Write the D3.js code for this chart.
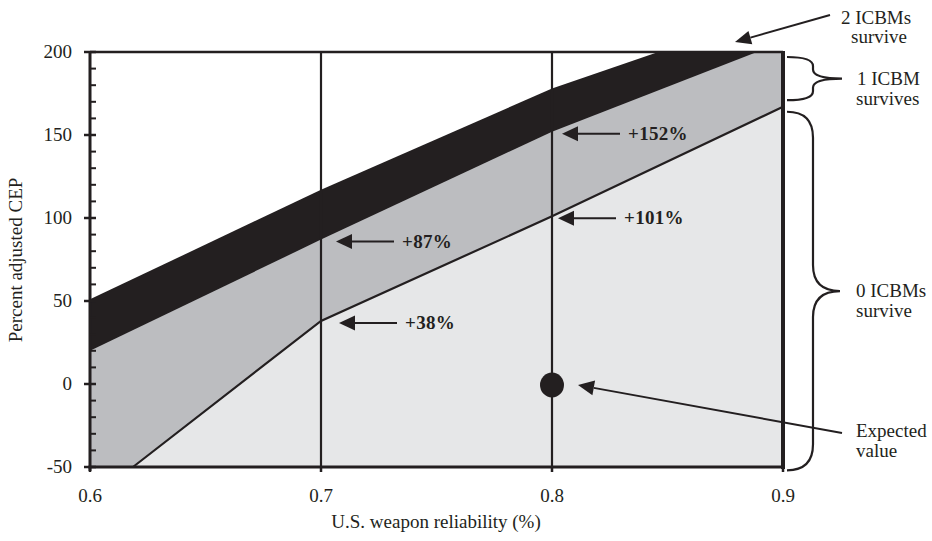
<!DOCTYPE html>
<html>
<head>
<meta charset="utf-8">
<script src="https://cdn.jsdelivr.net/npm/d3@7"></script>
<style>
  body { margin: 0; background: #fff; }
  svg text { font-family: "Liberation Serif", "DejaVu Serif", serif; fill: #231f20; }
</style>
</head>
<body>
<div id="chart"></div>
<script>
// donnees
const xTicks = [0.6, 0.7, 0.8, 0.9];
const yTicks = [-50, 0, 50, 100, 150, 200];
const yMinor = d3.range(-50, 201, 10);

// frontiere 0 ICBM / 1 ICBM
const zeroX = [0.6186, 0.7, 0.8, 0.9];
const zeroY = [-50, 38, 101, 167];
// frontiere 1 ICBM / 2 ICBMs
const oneX = [0.6, 0.7, 0.8, 0.8887, 0.9];
const oneY = [20, 87, 152, 200, 200];
// haut de la bande noire
const twoX = [0.6, 0.7, 0.8, 0.846, 0.9];
const twoY = [51, 117, 178, 200, 200];

// etiquettes en %
const pctX = [0.8, 0.8, 0.7, 0.7];
const pctY = [152, 101, 87, 38];
const pctText = ["+152%", "+101%", "+87%", "+38%"];

const expectedX = 0.8;
const expectedY = 0;

// accolades (valeurs de CEP)
const braceOne = [197, 171];
const braceZero = [164, -52];

const W = 932, H = 541;
const black = "#231f20", midGray = "#bcbdc0", lightGray = "#e6e7e8";

const svg = d3.select("#chart").append("svg").attr("width", W).attr("height", H);

const x = d3.scaleLinear().domain([0.6, 0.9]).range([90, 783]);
const y = d3.scaleLinear().domain([-50, 200]).range([467, 52]);

const zip = (xs, ys) => xs.map((v, i) => [v, ys[i]]);

const area = d3.area()
  .x(d => x(d[0]))
  .y0(y(-50))
  .y1(d => y(d[1]));

// zones
svg.append("path").datum(zip(twoX, twoY)).attr("d", area).attr("fill", black);
svg.append("path").datum(zip(oneX, oneY)).attr("d", area).attr("fill", midGray);
svg.append("path").datum(zip(zeroX, zeroY)).attr("d", area).attr("fill", lightGray);

// lignes verticales 0.7 et 0.8
svg.selectAll(".vline")
  .data([0.7, 0.8])
  .enter()
  .append("line")
  .attr("x1", d => x(d)).attr("x2", d => x(d))
  .attr("y1", y(200)).attr("y2", y(-50))
  .attr("stroke", black).attr("stroke-width", 2.2);

// frontiere basse
svg.append("path")
  .datum(zip(zeroX, zeroY))
  .attr("d", d3.line().x(d => x(d[0])).y(d => y(d[1])))
  .attr("fill", "none").attr("stroke", black).attr("stroke-width", 2.2);

// bord haut et ligne 0.9
svg.append("line")
  .attr("x1", x(0.6)).attr("x2", x(0.9)).attr("y1", y(200)).attr("y2", y(200))
  .attr("stroke", black).attr("stroke-width", 2.5);
svg.append("line")
  .attr("x1", x(0.9)).attr("x2", x(0.9)).attr("y1", y(200) - 1).attr("y2", y(-50) + 2)
  .attr("stroke", black).attr("stroke-width", 4);

// axes
const yAxis = svg.append("g");
yAxis.append("line")
  .attr("x1", x(0.6)).attr("x2", x(0.6)).attr("y1", y(200) - 1).attr("y2", y(-50) + 4)
  .attr("stroke", black).attr("stroke-width", 3);
yAxis.selectAll(".minor")
  .data(yMinor)
  .enter()
  .append("line")
  .attr("x1", x(0.6)).attr("x2", x(0.6) + 6)
  .attr("y1", d => y(d)).attr("y2", d => y(d))
  .attr("stroke", black).attr("stroke-width", 2);
yAxis.selectAll(".major")
  .data(yTicks)
  .enter()
  .append("line")
  .attr("x1", x(0.6) - 6).attr("x2", x(0.6) + 6)
  .attr("y1", d => y(d)).attr("y2", d => y(d))
  .attr("stroke", black).attr("stroke-width", 2.5);
yAxis.selectAll("text")
  .data(yTicks)
  .enter()
  .append("text")
  .attr("x", 72).attr("y", d => y(d) + 6)
  .attr("text-anchor", "end")
  .style("font-size", "19px")
  .text(d => d);

const xAxis = svg.append("g");
xAxis.append("line")
  .attr("x1", x(0.6) - 1.5).attr("x2", x(0.9) + 2).attr("y1", y(-50)).attr("y2", y(-50))
  .attr("stroke", black).attr("stroke-width", 3);
xAxis.selectAll(".tick")
  .data(xTicks)
  .enter()
  .append("line")
  .attr("x1", d => x(d)).attr("x2", d => x(d))
  .attr("y1", y(-50)).attr("y2", y(-50) + 5)
  .attr("stroke", black).attr("stroke-width", 2.5);
xAxis.selectAll("text")
  .data(xTicks)
  .enter()
  .append("text")
  .attr("x", d => x(d)).attr("y", 502)
  .attr("text-anchor", "middle")
  .style("font-size", "19px")
  .text(d => d.toFixed(1));

// titres des axes
svg.append("text")
  .attr("transform", "translate(22," + 260 + ") rotate(-90)")
  .attr("text-anchor", "middle")
  .style("font-size", "19px")
  .text("Percent adjusted CEP");
svg.append("text")
  .attr("x", 436).attr("y", 528)
  .attr("text-anchor", "middle")
  .style("font-size", "19px")
  .text("U.S. weapon reliability (%)");

// fleche avec tete pleine
function arrow(x1, y1, x2, y2, len, half) {
  const a = Math.atan2(y2 - y1, x2 - x1);
  const bx = x2 - len * Math.cos(a), by = y2 - len * Math.sin(a);
  svg.append("line")
    .attr("x1", x1).attr("y1", y1).attr("x2", bx).attr("y2", by)
    .attr("stroke", black).attr("stroke-width", 2);
  const px = -Math.sin(a) * half, py = Math.cos(a) * half;
  svg.append("path")
    .attr("d", "M" + x2 + "," + y2 + "L" + (bx + px) + "," + (by + py) + "L" + (bx - px) + "," + (by - py) + "Z")
    .attr("fill", black);
}

// etiquettes +%
const tipOffset = [10, 6, 15, 18];
pctText.forEach(function (t, i) {
  const tx = x(pctX[i]) + tipOffset[i];
  const ty = y(pctY[i]) + 2;
  arrow(tx + 58, ty, tx, ty, 16, 7.5);
  svg.append("text")
    .attr("x", tx + 66).attr("y", ty + 6)
    .style("font-size", "19px")
    .style("font-weight", "bold")
    .style("letter-spacing", "0.3px")
    .text(t);
});

// valeur attendue
svg.append("ellipse")
  .attr("cx", x(expectedX)).attr("cy", y(expectedY) + 1)
  .attr("rx", 12).attr("ry", 12.5)
  .attr("fill", black);
arrow(842, 433, x(expectedX) + 26, y(expectedY) + 1, 16, 7.5);
svg.append("text").attr("x", 856).attr("y", 437).style("font-size", "19px").text("Expected");
svg.append("text").attr("x", 856).attr("y", 457).style("font-size", "19px").text("value");

// 2 ICBMs
arrow(830, 15, 735, 42, 16, 7);
svg.append("text").attr("x", 876).attr("y", 24).attr("text-anchor", "middle").style("font-size", "19px").text("2 ICBMs");
svg.append("text").attr("x", 879).attr("y", 43).attr("text-anchor", "middle").style("font-size", "19px").text("survive");

// accolades
function brace(v0, v1, r, tip) {
  const x0 = x(0.9) + 4, xm = x(0.9) + 30;
  const y0 = y(v0), y1 = y(v1), ym = (y0 + y1) / 2;
  const d = "M" + x0 + "," + y0 +
    "Q" + xm + "," + y0 + " " + xm + "," + (y0 + r) +
    "L" + xm + "," + (ym - r) +
    "Q" + xm + "," + ym + " " + (xm + tip) + "," + ym +
    "Q" + xm + "," + ym + " " + xm + "," + (ym + r) +
    "L" + xm + "," + (y1 - r) +
    "Q" + xm + "," + y1 + " " + x0 + "," + y1;
  svg.append("path").attr("d", d).attr("fill", "none").attr("stroke", black).attr("stroke-width", 2.2);
  return ym;
}
const m1 = brace(braceOne[0], braceOne[1], 9, 29);
svg.append("text").attr("x", 857).attr("y", m1 + 6).style("font-size", "19px").text("1 ICBM");
svg.append("text").attr("x", 856).attr("y", m1 + 26).style("font-size", "19px").text("survives");

const m0 = brace(braceZero[0], braceZero[1], 26, 27);
svg.append("text").attr("x", 856).attr("y", m0 + 6).style("font-size", "19px").text("0 ICBMs");
svg.append("text").attr("x", 856).attr("y", m0 + 26).style("font-size", "19px").text("survive");
</script>
</body>
</html>
